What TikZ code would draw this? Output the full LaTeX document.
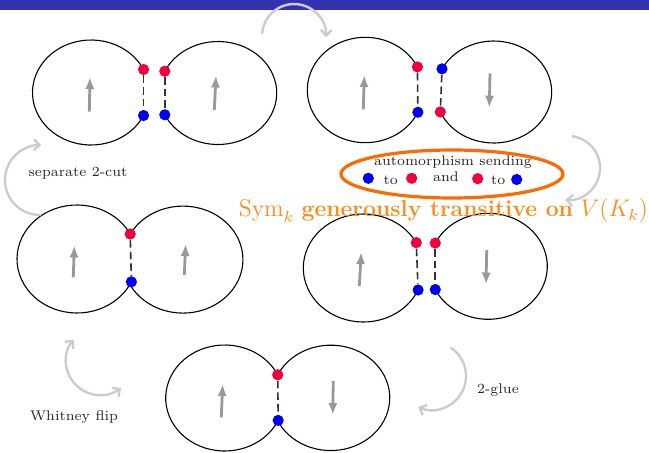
\documentclass[tikz,border=0pt]{standalone}
\usepackage{tikz}
\usetikzlibrary{arrows.meta}
\definecolor{barblue}{HTML}{3333B2}
\definecolor{cutred}{HTML}{F2003C}
\definecolor{cutblue}{HTML}{0000F0}
\definecolor{ringorange}{HTML}{FF6A00}
\definecolor{textorange}{HTML}{FF8C1A}

\begin{document}
\begin{tikzpicture}[x=0.5pt, y=0.5pt,
  blob/.style={draw=black, line width=0.55pt},
  rdot/.style={circle, fill=cutred, inner sep=0pt, minimum size=5.6pt},
  bdot/.style={circle, fill=cutblue, inner sep=0pt, minimum size=5.6pt},
  cut/.style={black!80, line width=0.8pt, dash pattern=on 3.8pt off 2pt},
  spin/.style={-{Latex[length=6pt,width=4.6pt]}, black!40, line width=1.4pt},
  move/.style={->, >={Straight Barb[length=2.8pt,width=5.5pt]}, black!20, line width=1.2pt},
  lbl/.style={font=\fontsize{7}{8}\selectfont, text=black!85}]
\fill[white] (0,0) rectangle (649,452);
\useasboundingbox (0,0) rectangle (649,452);
\fill[barblue] (0,442) rectangle (649,452);
% top left: split at both vertices
\draw[blob] (91,359.5) ++(26:58.5 and 52.5) coordinate (aLr)
  arc[start angle=26, end angle=334, x radius=58.5, y radius=52.5] coordinate (aLb);
\draw[blob] (218,359) ++(155:58.7 and 51.5) coordinate (aRr)
  arc[start angle=155, end angle=-155, x radius=58.7, y radius=51.5] coordinate (aRb);
\node[rdot] (aLred) at (aLr) {};
\node[bdot] (aLblue) at (aLb) {};
\node[rdot] (aRred) at (aRr) {};
\node[bdot] (aRblue) at (aRb) {};
\draw[cut] (aLred) -- (aLblue);
\draw[cut] (aRred) -- (aRblue);
\draw[spin] (89.3,340.3) -- (90,375);
\draw[spin] (214.3,342) -- (216,376.5);
% top right: right part turned over
\draw[blob] (365.3,362) ++(26:58 and 52.7) coordinate (bLr)
  arc[start angle=26, end angle=335, x radius=58, y radius=52.7] coordinate (bLb);
\draw[blob] (493.7,360) ++(153:58 and 51) coordinate (bRb)
  arc[start angle=153, end angle=-157, x radius=58, y radius=51] coordinate (bRr);
\node[rdot] (bLred) at (bLr) {};
\node[bdot] (bLblue) at (bLb) {};
\node[bdot] (bRblue) at (bRb) {};
\node[rdot] (bRred) at (bRr) {};
\draw[cut] (bLred) -- (bLblue);
\draw[cut] (bRblue) -- (bRred);
\draw[spin] (363.3,342.7) -- (364.3,377);
\draw[spin] (490,378.7) -- (489.3,344.3);
% middle left: glued
\draw[blob] (77,193) ++(27.5:60 and 54) coordinate (cr)
  arc[start angle=27.5, end angle=335, x radius=60, y radius=54] coordinate (cb);
\draw[blob] (cr) arc[start angle=151.5, end angle=-154, x radius=60, y radius=53.5];
\node[rdot] (cred) at (cr) {};
\node[bdot] (cblue) at (cb) {};
\draw[cut] (cred) -- (cblue);
\draw[spin] (73.3,174.7) -- (74.3,206.5);
\draw[spin] (184.3,177) -- (185.7,208);
% middle right: split, right part turned over
\draw[blob] (363.3,184) ++(28:60 and 54) coordinate (dLr)
  arc[start angle=28, end angle=336, x radius=60, y radius=54] coordinate (dLb);
\draw[blob] (488.3,185.7) ++(154:59 and 53) coordinate (dRr)
  arc[start angle=154, end angle=-154, x radius=59, y radius=53] coordinate (dRb);
\node[rdot] (dLred) at (dLr) {};
\node[bdot] (dLblue) at (dLb) {};
\node[rdot] (dRred) at (dRr) {};
\node[bdot] (dRblue) at (dRb) {};
\draw[cut] (dLred) -- (dLblue);
\draw[cut] (dRred) -- (dRblue);
\draw[spin] (359.3,166) -- (361.3,200);
\draw[spin] (486.7,202) -- (486,167.5);
% bottom: glued again
\draw[blob] (224.7,54) ++(26:59 and 53) coordinate (er)
  arc[start angle=26, end angle=335, x radius=59, y radius=53] coordinate (eb);
\draw[blob] (er) arc[start angle=154, end angle=-155, x radius=59, y radius=52.7];
\node[rdot] (ered) at (er) {};
\node[bdot] (eblue) at (eb) {};
\draw[cut] (ered) -- (eblue);
\draw[spin] (221.3,34.7) -- (222.7,68);
\draw[spin] (333.3,71) -- (332.7,37);
% moves
\coordinate (turnA) at (262.1,418.2);
\draw[move] (turnA) arc[start angle=176, end angle=-2, radius=32];
\coordinate (glueA) at (571.9,315.8);
\draw[move] (glueA) arc[start angle=83, end angle=-95, radius=32];
\coordinate (cutA) at (41.2,237);
\draw[move] (cutA) arc[start angle=-88, end angle=-272, radius=35];
\coordinate (flipA) at (73.6,112.4);
\draw[move, <->] (flipA) arc[start angle=141, end angle=308, radius=34];
\coordinate (glueB) at (450.5,104.5);
\draw[move] (glueB) arc[start angle=57, end angle=-114, radius=34];
\node[lbl] (cutTxt) at (78,279) {separate 2-cut};
\node[lbl] (flipTxt) at (74,35) {Whitney flip};
\node[lbl] (glueTxt) at (498,62) {2-glue};
% automorphism key
\draw[ringorange, line width=1.6pt] (452,278) ellipse[x radius=111, y radius=24];
\node[lbl] (autoTxt) at (453,289.7) {automorphism sending};
\node[bdot] (keyB1) at (368.3,273.7) {};
\node[lbl] (keyTo1) at (390.7,272) {to};
\node[rdot] (keyR1) at (411.7,273.7) {};
\node[lbl] (keyAnd) at (446,275) {and};
\node[rdot] (keyR2) at (477.7,273.3) {};
\node[lbl] (keyTo2) at (498.3,272) {to};
\node[bdot] (keyB2) at (516.7,272.5) {};
\node[anchor=base, text=textorange, font=\fontsize{11.5}{14}\selectfont] (symTxt) at (443.4,235.3)
  {$\mathrm{Sym}_k$ \textbf{generously transitive on} $V(K_k)$};
\end{tikzpicture}
\end{document}
